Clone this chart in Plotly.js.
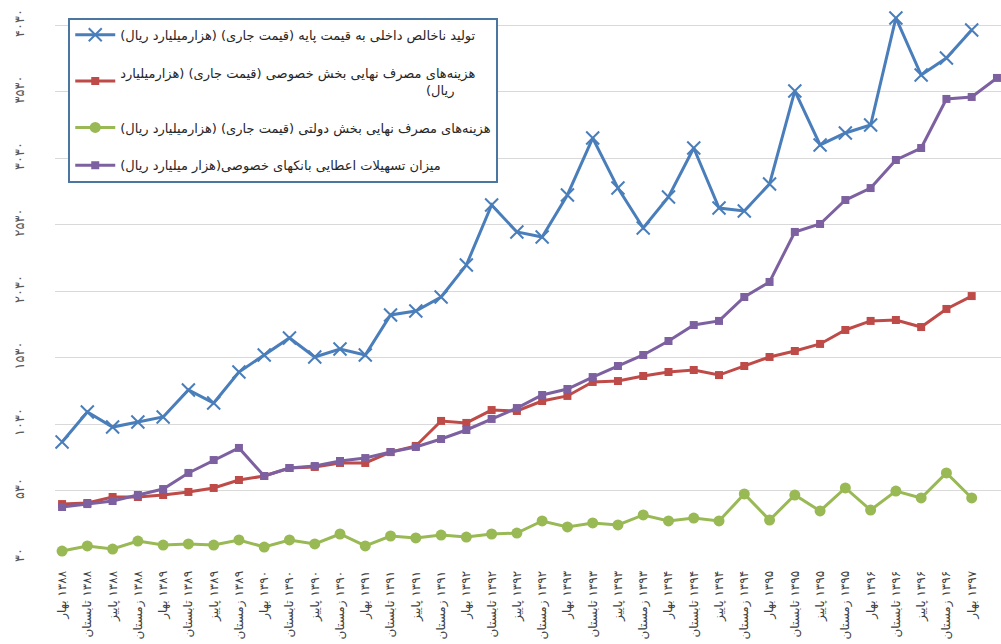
<!DOCTYPE html>
<html>
<head>
<meta charset="utf-8">
<script src="https://cdn.plot.ly/plotly-3.0.1.min.js"></script>
<style>html,body{margin:0;padding:0;background:#fff;}#chart{width:1001px;height:644px;}</style>
</head>
<body>
<div id="chart"></div>
<script>
const seasons = ['بهار', 'تابستان', 'پاییز', 'زمستان'];
const years = ['۱۳۸۸','۱۳۸۹','۱۳۹۰','۱۳۹۱','۱۳۹۲','۱۳۹۳','۱۳۹۴','۱۳۹۵','۱۳۹۶','۱۳۹۷'];

const gdp = [895,1120,1007,1045,1083,1286,1188,1421,1549,1677,1534,1594,1549,1850,1880,1985,2225,2677,2474,2436,2752,3180,2804,2504,2737,3105,2654,2632,2835,3534,3128,3218,3278,4083,3654,3782,3992];
const privCons = [428,436,481,481,496,519,549,609,639,699,707,737,737,819,865,1053,1038,1135,1128,1203,1241,1346,1353,1391,1421,1436,1398,1466,1534,1579,1632,1737,1805,1812,1759,1895,1992];
const govCons = [75,113,90,150,120,128,120,158,105,158,128,203,113,188,173,195,180,203,210,301,256,286,271,346,301,323,301,504,308,496,376,549,383,526,474,662,474];
const bankLoans = [406,428,451,496,541,662,759,850,639,699,714,752,774,819,857,917,985,1068,1150,1248,1293,1383,1466,1549,1654,1774,1805,1985,2098,2474,2534,2714,2804,3015,3105,3474,3489,3632];

const yTickVals = [30,530,1030,1530,2030,2530,3030,3530,4030];
const yTickText = ['۳۰','۵۳۰','۱۰۳۰','۱۵۳۰','۲۰۳۰','۲۵۳۰','۳۰۳۰','۳۵۳۰','۴۰۳۰'];

const pad = '\u00A0'.repeat(74);
const names = [
  'تولید ناخالص داخلی به قیمت پایه (قیمت جاری) (هزارمیلیارد ریال)\u200F',
  'هزینه‌های مصرف نهایی بخش خصوصی (قیمت جاری) (هزارمیلیارد\u200F<br>' + pad + 'ریال)\u200F',
  'هزینه‌های مصرف نهایی بخش دولتی (قیمت جاری) (هزارمیلیارد ریال)\u200F',
  'میزان تسهیلات اعطایی بانکهای خصوصی(هزار میلیارد ریال)\u200F'
];

// quarter labels: Spring 1388 ... Spring 1397
const xLabels = [];
for (let y = 0; y < years.length; y++) {
  for (let s = 0; s < 4; s++) {
    if (xLabels.length < 37) xLabels.push(seasons[s] + '\u200E ' + years[y]);
  }
}
const idx = n => Array.from({length: n}, (_, i) => i);

const traces = [
  {y: gdp, color: '#4A7EBB', marker: {symbol: 'x-thin', size: 13, line: {width: 2, color: '#4A7EBB'}, color: '#4A7EBB'}},
  {y: privCons, color: '#BE4B48', marker: {symbol: 'square', size: 8, color: '#BE4B48'}},
  {y: govCons, color: '#98B954', marker: {symbol: 'circle', size: 11, color: '#98B954'}},
  {y: bankLoans, color: '#7D60A0', marker: {symbol: 'square', size: 8, color: '#7D60A0'}}
].map((t, i) => ({
  type: 'scatter', mode: 'lines+markers',
  x: idx(t.y.length), y: t.y, name: names[i], legendgroup: 'g' + i,
  line: {color: t.color, width: 3}, marker: t.marker
}));

const layout = {
  width: 1001, height: 644,
  margin: {l: 55, r: 0, t: 0, b: 87},
  paper_bgcolor: '#ffffff', plot_bgcolor: '#ffffff',
  font: {family: 'DejaVu Sans, sans-serif', size: 12, color: '#404040'},
  showlegend: true,
  legend: {
    x: 0.014, y: 0.968, xanchor: 'left', yanchor: 'top',
    bgcolor: '#ffffff', bordercolor: '#4A76A0', borderwidth: 2,
    font: {family: 'DejaVu Sans, sans-serif', size: 13, color: '#262626'},
    tracegroupgap: 18, itemwidth: 40
  },
  xaxis: {
    range: [-0.28, 37.16],
    tickmode: 'array', tickvals: idx(xLabels.length), ticktext: xLabels,
    tickangle: -90, tickfont: {size: 12, color: '#404040'},
    ticks: 'outside', ticklen: 8, tickcolor: 'rgba(0,0,0,0)',
    showgrid: false, zeroline: false, showline: false
  },
  yaxis: {
    range: [30, 4218],
    tickmode: 'array', tickvals: yTickVals, ticktext: yTickText,
    tickangle: -90, tickfont: {size: 13, color: '#595959'},
    ticks: 'outside', ticklen: 25, tickcolor: 'rgba(0,0,0,0)',
    showgrid: true, gridcolor: '#D9D9D9', gridwidth: 1,
    zeroline: false, showline: false
  }
};

Plotly.newPlot('chart', traces, layout, {displayModeBar: false, staticPlot: true});
</script>
</body>
</html>
